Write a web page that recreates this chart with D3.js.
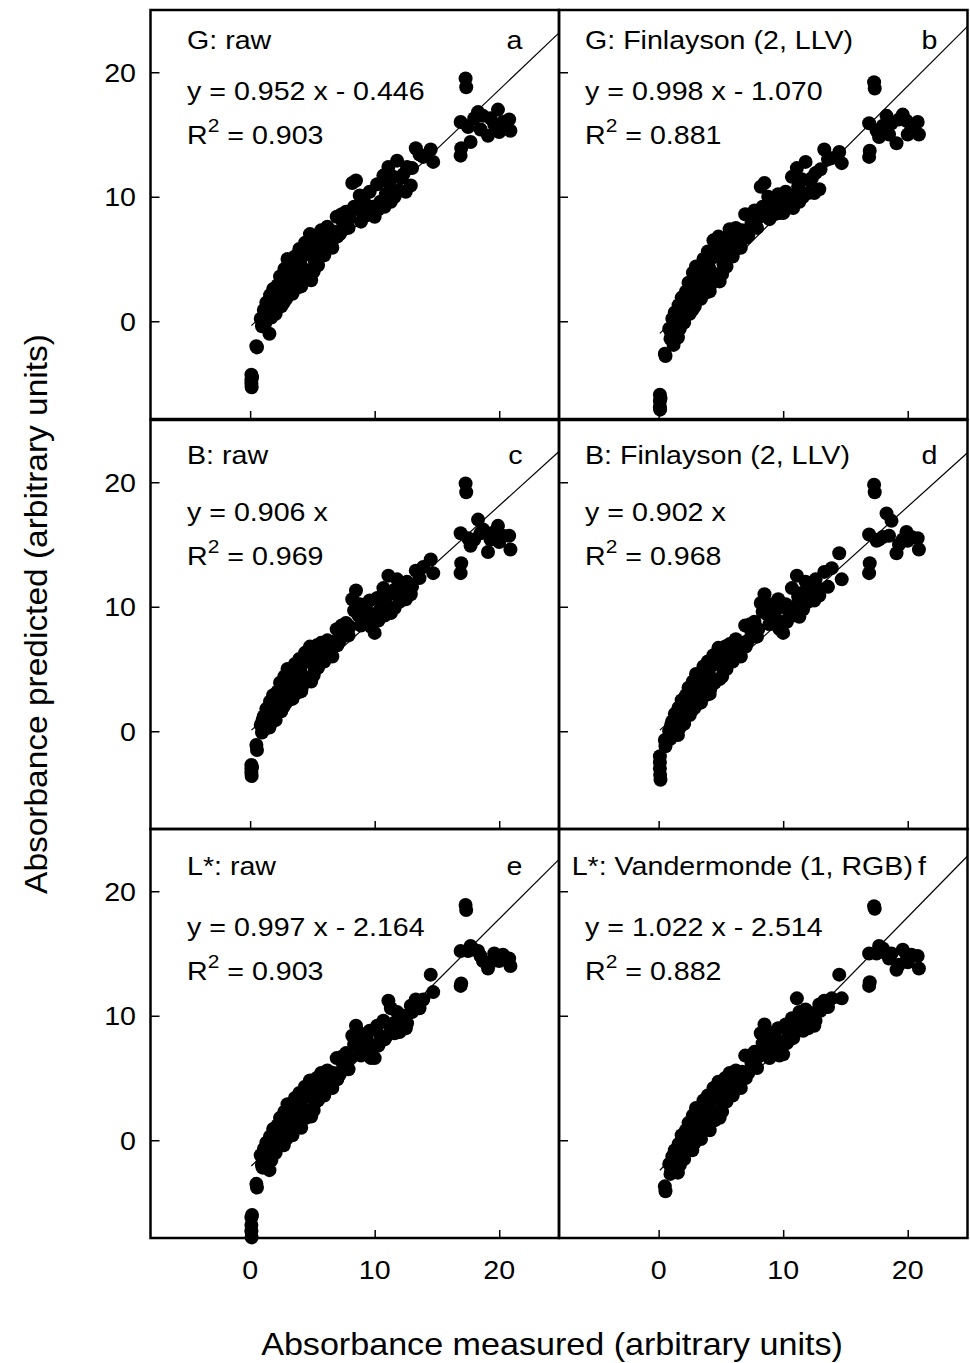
<!DOCTYPE html>
<html>
<head>
<meta charset="utf-8">
<script src="https://cdn.jsdelivr.net/npm/d3@7"></script>
<style>
  body { margin: 0; background: #fff; }
  svg { display: block; font-family: "Liberation Sans", Arial, sans-serif; }
</style>
</head>
<body>
<svg id="plot" width="970" height="1363"></svg>
<script>

// measured absorbance, same samples in every panel
const X_MEASURED = [0.1, 0.1, 0.1, 0.12, 0.15, 0.5, 0.55,
	0.85, 0.95, 1.1, 1.2, 1.3, 1.45, 1.55, 1.6, 1.75, 1.85,
	1.95, 2.05, 2.2, 2.3, 2.4, 2.5, 2.6, 2.75, 2.85, 2.9,
	3.0, 3.15, 3.25, 3.35, 3.5, 3.6, 3.7, 3.8, 3.95, 4.05,
	4.15, 4.3, 4.4, 4.55, 4.65, 4.8, 4.9, 5.05, 5.2, 5.35,
	5.5, 5.7, 5.85, 6.0, 6.2, 6.45, 6.7, 6.95, 7.2, 7.45,
	7.7, 8.0, 8.2, 8.5, 8.7, 8.9, 9.1, 9.3, 9.6, 9.85,
	10.0, 10.2, 10.45, 10.7, 10.9, 11.1, 11.3, 11.5, 11.8, 12.0,
	12.3, 12.6, 12.9, 13.3, 13.6, 14.5, 14.7,
	16.9, 16.9, 16.95, 17.3, 17.35, 17.7, 18.0, 18.3, 18.7, 19.1, 19.6, 19.9, 20.3, 20.8, 20.9,
	1.0, 1.4, 1.7, 2.15, 2.45, 2.7, 3.05, 3.4, 3.75, 4.1,
	4.5, 4.75, 5.1, 5.45, 5.95, 6.3, 6.6, 7.0, 7.35, 7.9,
	8.35, 8.8, 9.4, 9.7, 10.3, 10.8, 11.2, 11.6, 12.1, 12.5,
	13.0, 13.9, 17.5, 18.5, 19.3, 20.0];

// predicted absorbance per panel (null = below the plotted range)
const Y_G_RAW = [-4.3, -4.7, -5.0, -5.3, -4.5, -2.0, -2.1,
	0.2, -0.4, 0.9, -0.2, 1.5, 0.4, -1.0, 2.1, 0.9, 2.6,
	1.4, 0.6, 2.9, 1.9, 3.6, 1.2, 2.6, 4.2, 3.1, 1.8,
	5.0, 3.6, 2.5, 4.4, 3.0, 5.2, 4.0, 2.7, 5.8, 4.6,
	3.3, 5.3, 6.3, 4.1, 5.6, 7.0, 3.3, 6.2, 4.8, 6.8,
	5.6, 7.3, 5.9, 6.7, 7.6, 6.2, 7.2, 8.4, 7.0, 7.9,
	8.8, 8.3, 11.1, 11.3, 9.0, 8.0, 9.9, 8.5, 10.4, 9.2,
	8.4, 11.0, 9.6, 11.7, 10.2, 12.4, 9.6, 11.6, 12.9, 10.5,
	11.8, 12.4, 10.9, 13.9, 13.4, 13.8, 12.8,
	16.0, 13.3, 13.9, 19.5, 18.8, 14.4, 16.3, 16.8, 16.5, 14.9, 15.8, 17.0, 16.0, 16.2, 15.3,
	0.0, 1.2, 0.3, 1.6, 2.4, 1.5, 3.2, 2.2, 4.6, 2.8,
	3.6, 5.8, 4.0, 4.5, 5.3, 6.9, 5.9, 6.8, 8.6, 7.5,
	9.2, 10.1, 9.3, 8.6, 9.0, 9.2, 11.0, 10.0, 11.5, 10.4,
	12.3, 13.2, 15.6, 15.4, 16.3, 15.2];

const Y_G_FIN = [-5.9, -6.4, -6.9, -7.1, -6.2, -2.6, -2.8,
	-0.6, -1.4, 0.2, -1.9, 0.7, -0.5, -1.3, 1.3, 0.2, 1.9,
	0.8, -0.1, 2.4, 1.3, 3.1, 0.6, 2.1, 3.9, 2.7, 1.2,
	4.4, 3.1, 1.9, 4.0, 2.6, 5.0, 3.5, 2.3, 5.6, 4.3,
	2.9, 5.1, 6.5, 3.8, 5.4, 6.8, 3.2, 6.0, 4.6, 6.7,
	5.4, 7.4, 5.8, 6.6, 7.5, 6.2, 7.3, 8.6, 6.9, 7.9,
	8.9, 8.3, 10.8, 11.1, 8.9, 8.2, 9.8, 8.6, 10.2, 9.3,
	8.7, 10.4, 9.7, 11.6, 10.1, 12.3, 9.6, 11.4, 12.8, 10.3,
	11.5, 11.9, 10.6, 13.8, 13.0, 13.6, 12.7,
	15.9, 13.2, 13.7, 19.2, 18.7, 14.8, 15.7, 16.5, 15.9, 14.3, 16.6, 16.1, 15.5, 16.0, 15.0,
	-0.9, 0.3, -0.6, 1.0, 1.9, 0.9, 2.7, 1.8, 4.3, 2.4,
	3.3, 5.6, 3.8, 4.4, 5.2, 6.9, 5.9, 6.7, 8.5, 7.5,
	9.2, 10.0, 9.4, 8.7, 9.1, 9.1, 10.8, 10.0, 11.3, 10.3,
	12.2, 13.1, 15.3, 15.0, 16.2, 15.0];

const Y_B_RAW = [-2.7, -3.0, -3.3, -3.6, -2.9, -1.1, -1.5,
	0.5, -0.1, 1.2, 0.2, 1.8, 0.8, 0.3, 2.4, 1.3, 2.9,
	1.8, 0.9, 3.2, 2.2, 3.9, 1.6, 2.9, 4.4, 3.4, 2.3,
	5.0, 3.9, 2.8, 4.6, 3.4, 5.4, 4.3, 3.1, 5.8, 4.8,
	3.5, 5.5, 6.3, 4.3, 5.7, 6.8, 4.0, 6.2, 5.0, 6.9,
	5.8, 7.1, 6.0, 6.6, 7.3, 6.4, 7.2, 8.2, 7.3, 7.9,
	8.7, 8.4, 10.6, 11.3, 9.3, 8.5, 10.1, 9.0, 10.5, 9.4,
	7.9, 10.7, 9.8, 11.5, 10.2, 12.5, 9.5, 11.3, 12.2, 10.4,
	11.6, 12.0, 11.0, 12.9, 12.3, 13.8, 12.7,
	15.9, 12.7, 13.5, 19.9, 19.2, 14.9, 15.4, 17.0, 16.2, 14.4, 16.0, 16.5, 15.7, 15.7, 14.6,
	0.9, 1.6, 0.7, 2.2, 2.8, 2.0, 3.6, 2.6, 4.9, 3.2,
	4.0, 6.0, 4.5, 5.1, 5.6, 7.0, 6.0, 6.9, 8.5, 7.7,
	9.7, 10.2, 9.6, 8.4, 8.9, 9.3, 11.0, 9.9, 11.2, 10.6,
	11.6, 13.2, 15.5, 15.9, 15.4, 15.2];

const Y_B_FIN = [-2.0, -2.5, -3.0, -3.5, -3.9, -0.7, -1.2,
	0.0, -0.6, 0.8, -0.1, 1.4, 0.4, -0.3, 1.9, 0.9, 2.5,
	1.4, 0.6, 2.9, 1.8, 3.5, 1.3, 2.5, 4.0, 3.0, 1.9,
	4.6, 3.6, 2.5, 4.3, 3.1, 5.2, 4.0, 2.9, 5.6, 4.6,
	3.4, 5.3, 6.1, 4.1, 5.5, 6.7, 4.2, 6.1, 4.9, 6.8,
	5.7, 7.0, 6.0, 6.5, 7.4, 6.4, 7.1, 8.5, 7.3, 8.0,
	8.8, 8.2, 10.3, 11.0, 9.4, 8.6, 10.1, 9.1, 10.6, 8.8,
	7.9, 10.2, 9.6, 11.5, 10.0, 12.5, 9.2, 11.1, 12.0, 10.4,
	11.3, 12.2, 10.9, 12.8, 11.6, 14.3, 12.2,
	15.8, 12.7, 13.5, 19.8, 19.2, 15.4, 15.6, 17.5, 16.9, 14.3, 15.4, 16.0, 15.6, 15.5, 14.6,
	0.5, 1.2, 0.3, 1.9, 2.5, 1.7, 3.4, 2.3, 4.7, 3.0,
	3.9, 5.9, 4.4, 5.0, 5.6, 7.1, 6.0, 6.8, 8.6, 7.6,
	9.6, 10.2, 9.7, 8.2, 8.8, 9.3, 10.8, 9.8, 11.0, 10.5,
	11.4, 13.1, 15.3, 15.7, 15.0, 15.3];

const Y_L_RAW = [-6.2, -6.8, -7.3, -7.8, -6.0, -3.5, -3.8,
	-1.2, -2.0, -0.7, -1.6, -0.2, -1.1, -2.4, 0.3, -0.6, 0.9,
	-0.2, -1.0, 1.2, 0.2, 1.8, -0.3, 0.8, 2.3, 1.3, 0.1,
	2.9, 1.8, 0.8, 2.6, 1.4, 3.4, 2.3, 1.1, 3.8, 2.7,
	1.6, 3.4, 4.3, 2.4, 3.7, 4.8, 1.9, 4.2, 3.0, 5.0,
	3.8, 5.4, 4.1, 4.8, 5.6, 4.6, 5.4, 6.6, 5.3, 6.1,
	7.0, 6.6, 8.4, 9.2, 7.4, 6.8, 8.3, 7.2, 8.8, 7.6,
	6.6, 9.2, 8.4, 9.6, 8.3, 11.2, 10.6, 9.4, 10.3, 8.7,
	10.0, 9.4, 10.8, 11.3, 10.6, 13.3, 11.9,
	15.2, 12.4, 12.6, 18.9, 18.5, 15.6, 15.3, 15.2, 14.4, 13.8, 15.0, 14.6, 14.9, 14.6, 14.0,
	-2.2, -0.6, -1.6, -0.1, 0.6, -0.4, 1.4, 0.4, 2.9, 1.0,
	1.8, 3.9, 2.4, 3.2, 3.6, 5.0, 4.2, 4.9, 6.7, 5.7,
	7.7, 8.6, 8.0, 6.6, 7.6, 8.1, 9.2, 8.6, 9.9, 9.0,
	10.3, 11.3, 15.2, 14.8, 14.3, 14.4];

const Y_L_VAN = [null, null, null, null, null, -3.7, -4.1,
	-1.9, -2.7, -1.3, -2.2, -0.8, -1.7, -2.6, -0.3, -1.2, 0.4,
	-0.7, -1.5, 0.8, -0.2, 1.4, -0.7, 0.4, 2.0, 1.0, -0.2,
	2.6, 1.5, 0.5, 2.3, 1.2, 3.2, 2.1, 0.9, 3.6, 2.6,
	1.5, 3.3, 4.2, 2.3, 3.6, 4.7, 1.8, 4.1, 3.0, 5.0,
	3.8, 5.4, 4.1, 4.8, 5.6, 4.6, 5.5, 6.8, 5.4, 6.2,
	7.1, 6.7, 8.6, 9.3, 7.4, 6.6, 8.4, 7.3, 9.0, 7.8,
	6.9, 9.3, 8.5, 9.8, 8.6, 11.4, 10.3, 9.6, 10.5, 9.0,
	10.2, 9.6, 10.9, 11.2, 10.7, 13.3, 11.4,
	15.0, 12.4, 12.7, 18.8, 18.6, 15.6, 15.4, 15.0, 15.0, 13.7, 15.3, 14.9, 14.9, 14.8, 13.8,
	-2.5, -1.0, -2.0, -0.5, 0.2, -0.8, 1.1, 0.1, 2.7, 0.8,
	1.6, 3.8, 2.3, 3.1, 3.6, 5.0, 4.2, 5.0, 6.8, 5.8,
	7.8, 8.7, 8.2, 6.8, 7.8, 8.2, 9.4, 8.8, 10.0, 9.2,
	10.4, 11.4, 15.0, 14.6, 14.1, 14.3];

const PANEL_TITLES = ['G: raw', 'G: Finlayson (2, LLV)', 'B: raw', 'B: Finlayson (2, LLV)', 'L*: raw', 'L*: Vandermonde (1, RGB)'];
const PANEL_LETTERS = ['a', 'b', 'c', 'd', 'e', 'f'];
const SLOPES = [0.952, 0.998, 0.906, 0.902, 0.997, 1.022];
const INTERCEPTS = [-0.446, -1.070, 0, 0, -2.164, -2.514];
const R2 = ['0.903', '0.881', '0.969', '0.968', '0.903', '0.882'];
const TICKS = [0, 10, 20];
const X_TITLE = 'Absorbance measured (arbitrary units)';
const Y_TITLE = 'Absorbance predicted (arbitrary units)';

const SERIES = [Y_G_RAW, Y_G_FIN, Y_B_RAW, Y_B_FIN, Y_L_RAW, Y_L_VAN];

// layout
const COL_LEFT = [150.5, 559], COL_W = 408.5;
const ROW_TOP = [10, 420, 829], ROW_H = 409;
const X_DOMAIN = [-8, 24.8], Y_DOMAIN = [-7.85, 25];
const TITLE_DX = [36.5, 26, 36.5, 26, 36.5, 12.7];
const LETTER_DX = [372, 378.5, 372, 378.5, 372, 367];
const LABEL_Y = [49, 464, 875], EQ_Y = [100, 521, 936], R2_Y = [144, 565, 980];
const STRETCH = 1.1;

function putText(parent, px, py, str, size, anchor) {
	return parent.append('text')
		.attr('transform', `translate(${px},${py}) scale(${STRETCH},1)`)
		.attr('font-size', size)
		.attr('text-anchor', anchor || 'start')
		.attr('fill', '#000')
		.text(str);
}

const svg = d3.select('#plot');

SERIES.forEach((ys, i) => {
	const col = i % 2, row = Math.floor(i / 2);
	const x = d3.scaleLinear().domain(X_DOMAIN).range([COL_LEFT[col], COL_LEFT[col] + COL_W]);
	const y = d3.scaleLinear().domain(Y_DOMAIN).range([ROW_TOP[row] + ROW_H, ROW_TOP[row]]);
	const g = svg.append('g');

	// ticks (inside)
	g.append('g')
		.attr('transform', `translate(${COL_LEFT[col]},0)`)
		.call(d3.axisLeft(y).tickValues(TICKS).tickSize(-9).tickFormat(''))
		.call(a => a.select('.domain').remove())
		.call(a => a.selectAll('line').attr('stroke-width', 1.5));
	g.append('g')
		.attr('transform', `translate(0,${ROW_TOP[row] + ROW_H})`)
		.call(d3.axisBottom(x).tickValues(TICKS).tickSize(-8).tickFormat(''))
		.call(a => a.select('.domain').remove())
		.call(a => a.selectAll('line').attr('stroke-width', 1.5));

	// regression line
	const x0 = d3.min(X_MEASURED), x1 = X_DOMAIN[1];
	g.append('line')
		.attr('x1', x(x0)).attr('y1', y(SLOPES[i] * x0 + INTERCEPTS[i]))
		.attr('x2', x(x1)).attr('y2', y(SLOPES[i] * x1 + INTERCEPTS[i]))
		.attr('stroke', '#000').attr('stroke-width', 1.2);

	// points
	const pts = X_MEASURED.map((xv, k) => ({ x: xv, y: ys[k] })).filter(d => d.y !== null);
	g.selectAll('circle')
		.data(pts)
		.enter().append('circle')
		.attr('cx', d => x(d.x))
		.attr('cy', d => y(d.y))
		.attr('r', 7)
		.attr('fill', '#000');

	// frame
	g.append('rect')
		.attr('x', COL_LEFT[col]).attr('y', ROW_TOP[row])
		.attr('width', COL_W).attr('height', ROW_H)
		.attr('fill', 'none').attr('stroke', '#000').attr('stroke-width', 2.5);

	// texts
	const tx = COL_LEFT[col] + TITLE_DX[i];
	const ex = COL_LEFT[col] + (col === 0 ? 36.5 : 26);
	putText(g, tx, LABEL_Y[row], PANEL_TITLES[i], 26);
	putText(g, COL_LEFT[col] + LETTER_DX[i], LABEL_Y[row], PANEL_LETTERS[i], 26, 'end');
	let eq = `y = ${SLOPES[i].toFixed(3)} x`;
	if (INTERCEPTS[i] !== 0) eq += ` - ${(-INTERCEPTS[i]).toFixed(3)}`;
	putText(g, ex, EQ_Y[row], eq, 26);
	const r = putText(g, ex, R2_Y[row], 'R', 26);
	r.append('tspan').attr('font-size', 19).attr('dy', -12).text('2');
	r.append('tspan').attr('dy', 12).text(` = ${R2[i]}`);

	// tick labels
	if (col === 0) {
		TICKS.forEach(t => putText(svg, 136, y(t) + 9.3, t, 26, 'end'));
	}
	if (row === 2) {
		TICKS.forEach(t => putText(svg, x(t), 1279, t, 26, 'middle'));
	}
});

// axis titles
putText(svg, 552, 1355, X_TITLE, 31, 'middle');
svg.append('text')
	.attr('transform', `translate(47,614) rotate(-90) scale(1.08,1)`)
	.attr('font-size', 31)
	.attr('text-anchor', 'middle')
	.text(Y_TITLE);

</script>
</body>
</html>
